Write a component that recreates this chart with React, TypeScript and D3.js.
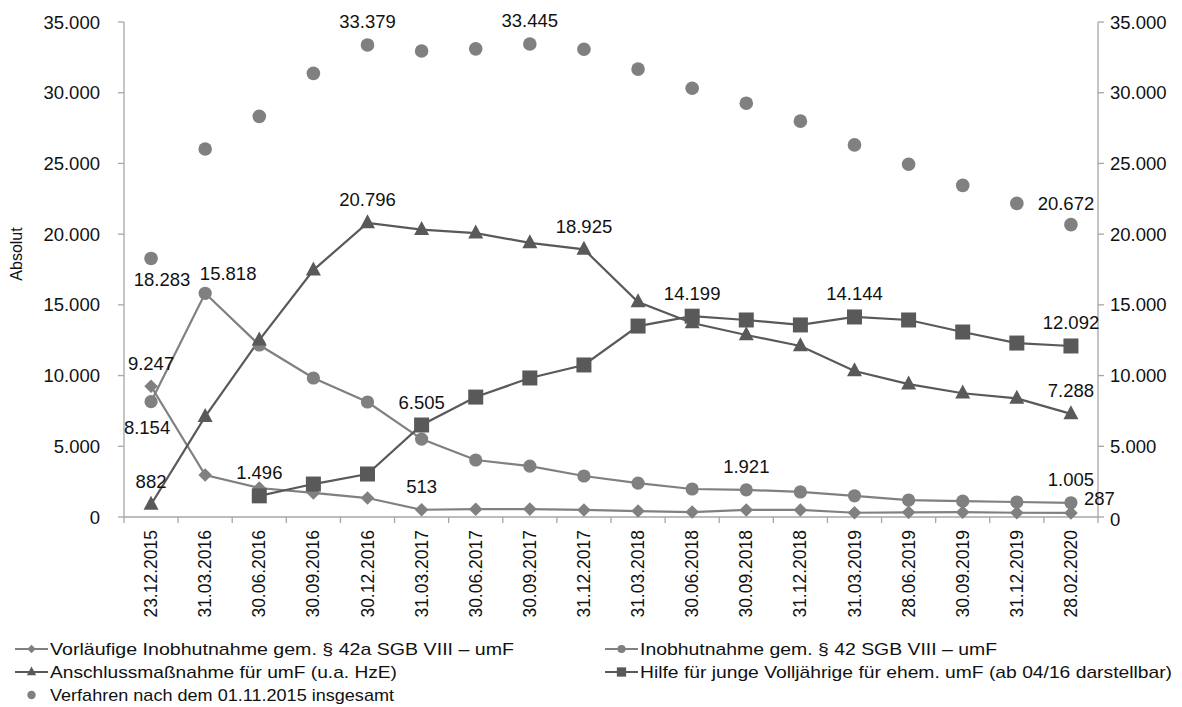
import React from "react";
import * as d3 from "d3";

const categories = [
  "23.12.2015", "31.03.2016", "30.06.2016", "30.09.2016", "30.12.2016", "31.03.2017",
  "30.06.2017", "30.09.2017", "31.12.2017", "31.03.2018", "30.06.2018", "30.09.2018",
  "31.12.2018", "31.03.2019", "28.06.2019", "30.09.2019", "31.12.2019", "28.02.2020",
];

const vorlaeufig = [9247, 2970, 2050, 1700, 1340, 513, 550, 560, 500, 420, 350, 500, 500, 300, 330, 340, 300, 287];
const inobhut = [8154, 15818, 12160, 9830, 8130, 5510, 4030, 3600, 2900, 2400, 1980, 1921, 1770, 1500, 1200, 1120, 1060, 1005];
const anschluss = [882, 7100, 12510, 17460, 20796, 20320, 20070, 19380, 18925, 15200, 13720, 12870, 12090, 10320, 9400, 8750, 8390, 7288];
const hilfe: (number | null)[] = [null, null, 1496, 2330, 3040, 6505, 8480, 9830, 10750, 13500, 14199, 13930, 13580, 14144, 13930, 13080, 12300, 12092];
const insgesamt = [18283, 26020, 28330, 31370, 33379, 32950, 33100, 33445, 33070, 31670, 30320, 29260, 27990, 26310, 24940, 23450, 22175, 20672];

const yTicks = [0, 5000, 10000, 15000, 20000, 25000, 30000, 35000];

const legendNames = [
  "Vorläufige Inobhutnahme gem. § 42a SGB VIII – umF",
  "Inobhutnahme gem. § 42 SGB VIII – umF",
  "Anschlussmaßnahme für umF (u.a. HzE)",
  "Hilfe für junge Volljährige für ehem. umF (ab 04/16 darstellbar)",
  "Verfahren nach dem 01.11.2015 insgesamt",
];

// which points get a value label, and where
const labelSpecs: { s: number; i: number; pos: string }[] = [
  { s: 4, i: 0, pos: "belowRight" },
  { s: 1, i: 1, pos: "aboveRight" },
  { s: 0, i: 0, pos: "above" },
  { s: 1, i: 0, pos: "below" },
  { s: 2, i: 0, pos: "above" },
  { s: 3, i: 2, pos: "above" },
  { s: 0, i: 5, pos: "above" },
  { s: 3, i: 5, pos: "above" },
  { s: 4, i: 4, pos: "above" },
  { s: 4, i: 7, pos: "above" },
  { s: 2, i: 4, pos: "above" },
  { s: 2, i: 8, pos: "above" },
  { s: 3, i: 10, pos: "above" },
  { s: 3, i: 13, pos: "above" },
  { s: 1, i: 11, pos: "above" },
  { s: 3, i: 17, pos: "above" },
  { s: 2, i: 17, pos: "above" },
  { s: 1, i: 17, pos: "above" },
  { s: 0, i: 17, pos: "right" },
  { s: 4, i: 17, pos: "aboveLeft" },
];

const LIGHT = "#808080";
const DARK = "#595959";
const AXIS = "#a6a6a6";
const FONT = "'Liberation Sans', Arial, sans-serif";

const fmt = (v: number) => d3.format(",")(v).replace(/,/g, ".");

function Marker({ type, x, y, color }: { type: string; x: number; y: number; color: string }) {
  if (type === "diamond") {
    const r = 6.8;
    return <path d={`M${x},${y - r}L${x + r},${y}L${x},${y + r}L${x - r},${y}Z`} fill={color} />;
  }
  if (type === "circle") return <circle cx={x} cy={y} r={6.6} fill={color} />;
  if (type === "triangle") {
    const h = 14, w = 15;
    return <path d={`M${x},${y - h * 0.62}L${x + w / 2},${y + h * 0.38}L${x - w / 2},${y + h * 0.38}Z`} fill={color} />;
  }
  if (type === "square") return <rect x={x - 7.5} y={y - 7.5} width={15} height={15} fill={color} />;
  return <circle cx={x} cy={y} r={6.8} fill={color} />;
}

export default function App() {
  const W = 1182, H = 707;
  const left = 124, right = 1098, top = 22, bottom = 517;

  const x = d3.scaleBand<string>().domain(categories).range([left, right]);
  const y = d3.scaleLinear().domain([0, 35000]).range([bottom, top]);
  const cx = (i: number) => (x(categories[i]) as number) + x.bandwidth() / 2;

  const series = [
    { name: legendNames[0], values: vorlaeufig as (number | null)[], marker: "diamond", color: LIGHT, line: true },
    { name: legendNames[1], values: inobhut as (number | null)[], marker: "circle", color: LIGHT, line: true },
    { name: legendNames[2], values: anschluss as (number | null)[], marker: "triangle", color: DARK, line: true },
    { name: legendNames[3], values: hilfe, marker: "square", color: DARK, line: true },
    { name: legendNames[4], values: insgesamt as (number | null)[], marker: "dot", color: LIGHT, line: false },
  ];

  const lineGen = d3
    .line<number | null>()
    .defined((d) => d !== null)
    .x((_, i) => cx(i))
    .y((d) => y(d as number));

  const labelOffset = (pos: string) => {
    switch (pos) {
      case "above": return { dx: 0, dy: -23, anchor: "middle" };
      case "below": return { dx: -4, dy: 26, anchor: "middle" };
      case "belowRight": return { dx: 11, dy: 21, anchor: "middle" };
      case "aboveRight": return { dx: 23, dy: -20, anchor: "middle" };
      case "aboveLeft": return { dx: -5, dy: -21, anchor: "middle" };
      case "right": return { dx: 13, dy: -14, anchor: "start" };
      default: return { dx: 0, dy: -23, anchor: "middle" };
    }
  };

  const legendItems = [
    { s: 0, lx: 15, ly: 649, len: 464 },
    { s: 1, lx: 605, ly: 649, len: 357 },
    { s: 2, lx: 15, ly: 672, len: 347 },
    { s: 3, lx: 605, ly: 672, len: 532 },
    { s: 4, lx: 15, ly: 695, len: 344 },
  ];

  return (
    <svg width={W} height={H} style={{ position: "absolute", left: 0, top: 0, background: "#fff" }} fontFamily={FONT}>
      <rect width={W} height={H} fill="#fff" />
      {/* axes */}
      <line x1={left} x2={left} y1={top} y2={bottom} stroke={AXIS} strokeWidth={1.3} />
      <line x1={right} x2={right} y1={top} y2={bottom} stroke={AXIS} strokeWidth={1.3} />
      <line x1={left} x2={right} y1={bottom} y2={bottom} stroke={AXIS} strokeWidth={1.3} />
      {yTicks.map((t) => (
        <g key={"yt" + t}>
          <line x1={left - 6} x2={left} y1={y(t)} y2={y(t)} stroke={AXIS} strokeWidth={1.3} />
          <text x={left - 24} y={y(t)} dominantBaseline="central" textAnchor="end" fontSize={18.5} fill="#111">
            {fmt(t)}
          </text>
          <line x1={right} x2={right + 6} y1={y(t)} y2={y(t)} stroke={AXIS} strokeWidth={1.3} />
          <text x={right + 12} y={y(t) + (t === 0 ? 2 : 0)} dominantBaseline="central" textAnchor="start" fontSize={18.5} fill="#111">
            {fmt(t)}
          </text>
        </g>
      ))}
      {categories.map((c) => (
        <line key={"xt" + c} x1={x(c) as number} x2={x(c) as number} y1={bottom} y2={bottom + 6} stroke={AXIS} strokeWidth={1.3} />
      ))}
      <line x1={right} x2={right} y1={bottom} y2={bottom + 6} stroke={AXIS} strokeWidth={1.3} />
      {categories.map((c, i) => (
        <text
          key={"xl" + c}
          transform={`translate(${cx(i) + 6},${bottom + 13}) rotate(-90)`}
          textAnchor="end"
          fontSize={17.5}
          fill="#111"
        >
          {c}
        </text>
      ))}
      <text transform={`translate(${22},${254}) rotate(-90)`} textAnchor="middle" fontSize={16} fill="#111">
        Absolut
      </text>

      {/* series */}
      {series.map((s, si) =>
        s.line ? (
          <path key={"ln" + si} d={lineGen(s.values) || ""} fill="none" stroke={s.color} strokeWidth={2.2} />
        ) : null
      )}
      {series.map((s, si) => (
        <g key={"mk" + si}>
          {s.values.map((v, i) =>
            v === null ? null : <Marker key={i} type={s.marker} x={cx(i)} y={y(v)} color={s.color} />
          )}
        </g>
      ))}

      {/* data labels */}
      {labelSpecs.map((l, k) => {
        const v = series[l.s].values[l.i] as number;
        const o = labelOffset(l.pos);
        return (
          <text
            key={"lb" + k}
            x={cx(l.i) + o.dx}
            y={y(v) + o.dy}
            textAnchor={o.anchor}
            dominantBaseline="central"
            fontSize={18.5}
            fill="#111"
          >
            {fmt(v)}
          </text>
        );
      })}

      {/* legend */}
      {legendItems.map((it) => {
        const s = series[it.s];
        return (
          <g key={"lg" + it.s}>
            {s.line ? <line x1={it.lx} x2={it.lx + 33} y1={it.ly} y2={it.ly} stroke={s.color} strokeWidth={2.2} /> : null}
            <g transform={`translate(${it.lx + 16.5},${it.ly}) scale(0.62)`}>
              <Marker type={s.marker} x={0} y={0} color={s.color} />
            </g>
            <text
              x={it.lx + 35}
              y={it.ly}
              dominantBaseline="central"
              fontSize={17}
              fill="#111"
              textLength={it.len}
              lengthAdjust="spacingAndGlyphs"
            >
              {s.name}
            </text>
          </g>
        );
      })}
    </svg>
  );
}
